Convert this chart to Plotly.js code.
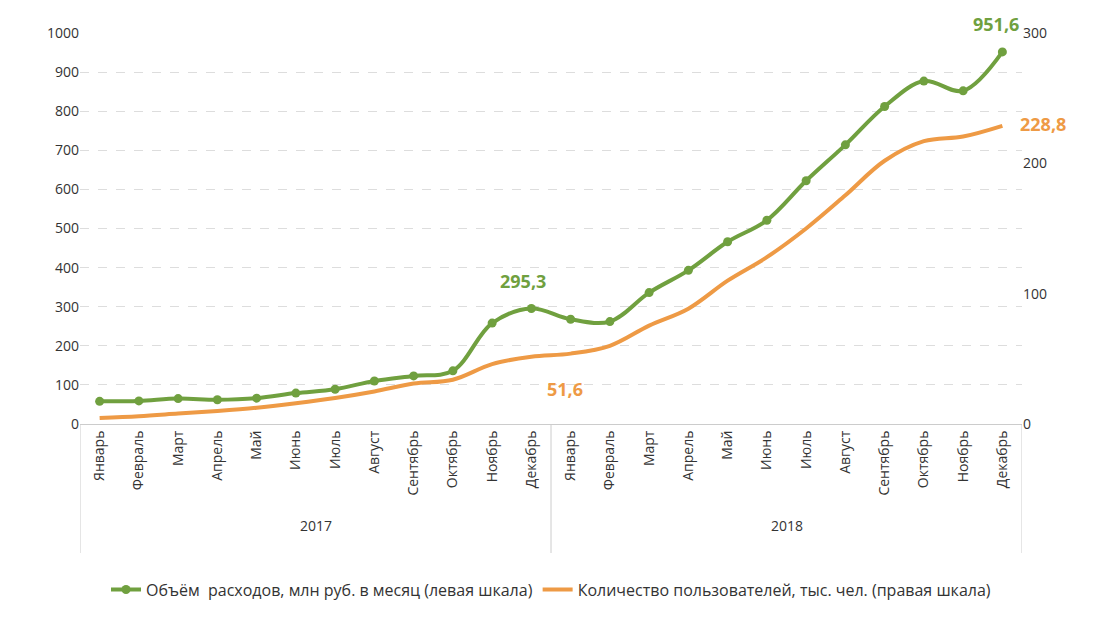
<!DOCTYPE html>
<html><head><meta charset="utf-8">
<script src="https://cdn.plot.ly/plotly-3.0.1.min.js"></script>
<style>body{margin:0;background:#fff}</style></head>
<body><div id="chart" style="width:1094px;height:619px"></div>
<script>
const months = ["Январь","Февраль","Март","Апрель","Май","Июнь","Июль","Август","Сентябрь","Октябрь","Ноябрь","Декабрь"];
const years = ["2017", "2018"];
const spending = [58, 59, 65, 62, 66, 79, 89, 110, 123, 136, 258, 295.3,
                  268, 262, 336, 393, 466, 521, 622, 714, 812, 877, 852, 951.6];
const users = [4.6, 6, 8, 10, 12.5, 16, 20, 25, 31, 34, 46, 51.6,
               54, 60, 75.5, 88.5, 110, 128, 150, 175.5, 202, 217, 220.6, 228.8];

const idx = spending.map((v, i) => i);
const ticks = years.flatMap(() => months);
const green = "#70a03f", orange = "#ee9a45";
const font = {family: "Open Sans, Liberation Sans, sans-serif", color: "#333", size: 14};

const data = [
  {x: idx, y: spending, name: "Объём  расходов, млн руб. в месяц (левая шкала)", type: "scatter",
   mode: "lines+markers", line: {color: green, width: 4, shape: "spline"}, marker: {size: 9, color: green}},
  {x: idx, y: users, name: "Количество пользователей, тыс. чел. (правая шкала)", type: "scatter",
   mode: "lines", yaxis: "y2", line: {color: orange, width: 4, shape: "spline"}}
];

const shapes = [0, 12, 24].map(p => ({type: "line", xref: "x", yref: "paper",
  x0: p - 0.5, x1: p - 0.5, y0: 0, y1: -0.33, line: {color: "#ccc", width: 1}}));

const annotations = [
  {x: 11, y: 295.3, text: "<b>295,3</b>", showarrow: false, yshift: 28, xshift: -8, font: {size: 18, color: green}},
  {x: 11, y: 51.6, yref: "y2", text: "<b>51,6</b>", showarrow: false, yshift: -32, xshift: 34, font: {size: 18, color: orange}},
  {x: 23, y: 951.6, text: "<b>951,6</b>", showarrow: false, yshift: 28, xshift: -6, font: {size: 18, color: green}},
  {x: 23, y: 228.8, yref: "y2", text: "<b>228,8</b>", showarrow: false, xanchor: "left", xshift: 16, yshift: 2, font: {size: 18, color: orange}}
];
years.forEach((y, i) => annotations.push({x: i * 12 + 5.5, y: -0.29, yref: "paper", text: y, showarrow: false, font: font}));

const layout = {
  margin: {l: 80, r: 72, t: 33, b: 193},
  font: font,
  showlegend: true,
  legend: {orientation: "h", x: 0.5, xanchor: "center", y: -0.38, yanchor: "top",
           font: {family: font.family, color: "#333", size: 16}},
  xaxis: {range: [-0.5, 23.5], tickvals: idx, ticktext: ticks, tickangle: -90, showgrid: false,
          showline: true, linecolor: "#ccc", ticks: "outside", ticklen: 0, zeroline: false},
  yaxis: {range: [0, 1000], dtick: 100, gridcolor: "#ddd", griddash: "dash", zeroline: false},
  yaxis2: {range: [0, 300], dtick: 100, overlaying: "y", side: "right", showgrid: false, zeroline: false},
  shapes: shapes,
  annotations: annotations,
  plot_bgcolor: "#fff", paper_bgcolor: "#fff"
};

Plotly.newPlot("chart", data, layout, {displayModeBar: false});
</script></body></html>
